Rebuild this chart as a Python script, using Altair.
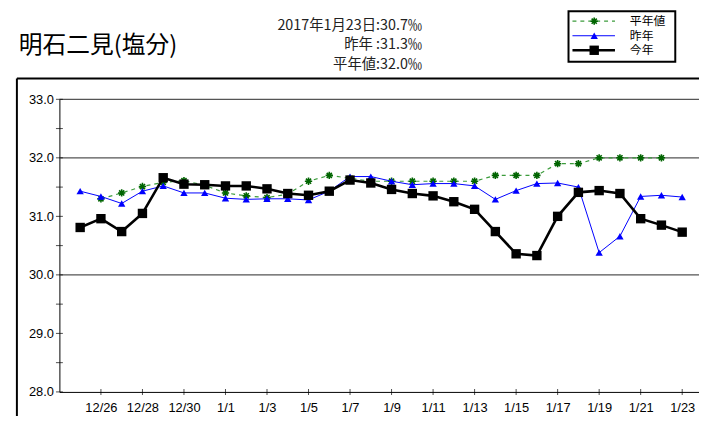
import json
import altair as alt
import pandas as pd

# ---------------- data ----------------
dates = ["12/25", "12/26", "12/27", "12/28", "12/29", "12/30", "12/31",
         "1/1", "1/2", "1/3", "1/4", "1/5", "1/6", "1/7", "1/8", "1/9",
         "1/10", "1/11", "1/12", "1/13", "1/14", "1/15", "1/16", "1/17",
         "1/18", "1/19", "1/20", "1/21", "1/22", "1/23"]

this_year = [30.81, 30.96, 30.74, 31.05, 31.66, 31.55, 31.54, 31.52, 31.52, 31.47,
             31.39, 31.36, 31.43, 31.62, 31.57, 31.46, 31.39, 31.35, 31.25, 31.12,
             30.74, 30.36, 30.33, 31.00, 31.41, 31.44, 31.39, 30.96, 30.85, 30.73]

last_year = [31.43, 31.34, 31.22, 31.43, 31.52, 31.40, 31.40, 31.31, 31.29, 31.30,
             31.30, 31.28, 31.43, 31.68, 31.68, 31.60, 31.54, 31.56, 31.56, 31.52,
             31.29, 31.44, 31.56, 31.57, 31.50, 30.38, 30.66, 31.34, 31.36, 31.33]

normal = [None, 31.30, 31.40, 31.51, 31.58, 31.61, 31.53, 31.40, 31.35, 31.32,
          31.38, 31.60, 31.70, 31.65, 31.60, 31.60, 31.60, 31.60, 31.60, 31.60,
          31.70, 31.70, 31.70, 31.90, 31.90, 32.00, 32.00, 32.00, 32.00, None]

series_names = ["平年値", "昨年", "今年"]
x_tick_labels = ["12/26", "12/28", "12/30", "1/1", "1/3", "1/5", "1/7", "1/9",
                 "1/11", "1/13", "1/15", "1/17", "1/19", "1/21", "1/23"]
y_labels = [28.0, 29.0, 30.0, 31.0, 32.0, 33.0]
y_minor = [28.0, 28.5, 29.0, 29.5, 30.0, 30.5, 31.0, 31.5, 32.0, 32.5, 33.0]
grid_lines = [33.0, 32.0, 30.0]
title_text = "明石二見(塩分)"
info_lines = ["2017年1月23日:30.7‰", "昨年  :31.3‰", "平年値:32.0‰"]

# ---------------- layout ----------------
W, H = 647, 296
PX_PER_DAY = 21.0
NUM_FONT = "Liberation Sans"
JP_FONT = "Noto Sans CJK JP"

df = pd.DataFrame({"i": list(range(len(dates))), "date": dates,
                   "今年": this_year, "昨年": last_year, "平年値": normal})
tick_idx = [dates.index(t) for t in x_tick_labels]

xscale = alt.Scale(domain=[-1, W / PX_PER_DAY - 1], nice=False, zero=False)
yscale = alt.Scale(domain=[28, 33], nice=False, zero=False)

xaxis = alt.Axis(values=tick_idx, labelExpr=f"{json.dumps(dates)}[datum.value]",
                 ticks=False, grid=False, title=None, labelPadding=10,
                 labelFont=NUM_FONT, labelFontSize=13, labelColor="black",
                 domainColor="black", labelAngle=0)
yaxis = alt.Axis(values=y_labels, format=".1f", ticks=False, grid=False, title=None,
                 labelPadding=6, labelFont=NUM_FONT, labelFontSize=13,
                 labelColor="black", domainColor="black")


def X(field):
    return alt.X(field, scale=xscale, axis=xaxis)


def Y(field):
    return alt.Y(field, scale=yscale, axis=yaxis)


one = pd.DataFrame({"a": [0]})

# outer frame (top and left edges; the rest lies outside the picture)
frame_top = alt.Chart(one).mark_rule(color="black", strokeWidth=2).encode(
    x=alt.value(-43), x2=alt.value(W), y=alt.value(-21))
frame_left = alt.Chart(one).mark_rule(color="black", strokeWidth=2).encode(
    x=alt.value(-43), y=alt.value(-21), y2=alt.value(H + 40))

# horizontal grid lines
grid = alt.Chart(pd.DataFrame({"v": grid_lines})).mark_rule(
    color="#555555", strokeWidth=1.2).encode(
    y=Y("v:Q"), x=alt.value(0), x2=alt.value(W))

# y ticks crossing the axis
yticks = alt.Chart(pd.DataFrame({"v": y_minor})).mark_tick(
    orient="horizontal", color="black", size=7, thickness=1).encode(
    y=Y("v:Q"), x=alt.value(0))

# x ticks crossing the axis
xticks = alt.Chart(pd.DataFrame({"i": tick_idx})).mark_tick(
    orient="vertical", color="black", size=6, thickness=1).encode(
    x=X("i:Q"), y=alt.value(H))

base = alt.Chart(df)

ASTER = "M-1,0L1,0M0,-1L0,1M-0.7,-0.7L0.7,0.7M-0.7,0.7L0.7,-0.7"

normal_line = base.transform_filter("isValid(datum['平年値'])").mark_line(
    color="#3c9c3c", strokeWidth=1.2, strokeDash=[4, 4]).encode(x=X("i:Q"), y=Y("平年値:Q"))
normal_pts = base.transform_filter("isValid(datum['平年値'])").mark_point(
    shape=ASTER, color="#006400", size=55, strokeWidth=1.6, filled=False, opacity=1).encode(
    x=X("i:Q"), y=Y("平年値:Q"))

last_line = base.mark_line(color="#0000ff", strokeWidth=1).encode(x=X("i:Q"), y=Y("昨年:Q"))
last_pts = base.mark_point(shape="triangle-up", color="#0000ff", size=55, filled=True,
                           opacity=1).encode(x=X("i:Q"), y=Y("昨年:Q"))

this_line = base.mark_line(color="black", strokeWidth=2.6).encode(x=X("i:Q"), y=Y("今年:Q"))
this_pts = base.mark_point(shape="square", color="black", size=90, filled=True,
                           opacity=1).encode(x=X("i:Q"), y=Y("今年:Q"))

# titles
title = alt.Chart(pd.DataFrame({"t": [title_text]})).mark_text(
    font=JP_FONT, fontSize=24, align="left", baseline="middle", color="black").encode(
    text="t:N", x=alt.value(-41), y=alt.value(-54))

info_layers = []
for txt, yy in zip(info_lines, [-74, -54.5, -35]):
    info_layers.append(alt.Chart(pd.DataFrame({"t": [txt]})).mark_text(
        font=JP_FONT, fontSize=14.5, align="right", baseline="middle", color="#222222").encode(
        text="t:N", x=alt.value(367), y=alt.value(yy)))

# legend (drawn by hand to reproduce the boxed style)
LX0, LX1, LY0, LY1 = 515, 623, -89, -38
leg_box = alt.Chart(one).mark_rect(fill="white", stroke="black", strokeWidth=2).encode(
    x=alt.value(LX0), x2=alt.value(LX1), y=alt.value(LY0), y2=alt.value(LY1))
leg_rows = [-79, -64.3, -49.6]
leg = []
leg.append(alt.Chart(one).mark_rule(color="#3c9c3c", strokeWidth=1.2, strokeDash=[4, 4]).encode(
    x=alt.value(519), x2=alt.value(562), y=alt.value(leg_rows[0])))
leg.append(alt.Chart(one).mark_point(shape=ASTER, color="#006400", size=55, strokeWidth=1.6,
                                     opacity=1).encode(x=alt.value(541), y=alt.value(leg_rows[0])))
leg.append(alt.Chart(one).mark_rule(color="#0000ff", strokeWidth=1).encode(
    x=alt.value(519), x2=alt.value(562), y=alt.value(leg_rows[1])))
leg.append(alt.Chart(one).mark_point(shape="triangle-up", color="#0000ff", size=55, filled=True,
                                     opacity=1).encode(x=alt.value(541), y=alt.value(leg_rows[1])))
leg.append(alt.Chart(one).mark_rule(color="black", strokeWidth=2.6).encode(
    x=alt.value(519), x2=alt.value(562), y=alt.value(leg_rows[2])))
leg.append(alt.Chart(one).mark_point(shape="square", color="black", size=90, filled=True,
                                     opacity=1).encode(x=alt.value(541), y=alt.value(leg_rows[2])))
for name, yy in zip(series_names, leg_rows):
    leg.append(alt.Chart(pd.DataFrame({"t": [name]})).mark_text(
        font=JP_FONT, fontSize=12, align="left", baseline="middle", color="black").encode(
        text="t:N", x=alt.value(577), y=alt.value(yy)))

chart = alt.layer(
    frame_top, frame_left, grid, yticks, xticks,
    normal_line, normal_pts, last_line, last_pts, this_line, this_pts,
    title, *info_layers, leg_box, *leg
).properties(
    width=W, height=H, autosize="none",
    padding={"left": 52, "top": 90, "right": 0, "bottom": 22},
    background="white",
).configure_view(strokeWidth=0, stroke="transparent")

chart.save("out.html", embed_options={"renderer": "svg", "actions": False})
